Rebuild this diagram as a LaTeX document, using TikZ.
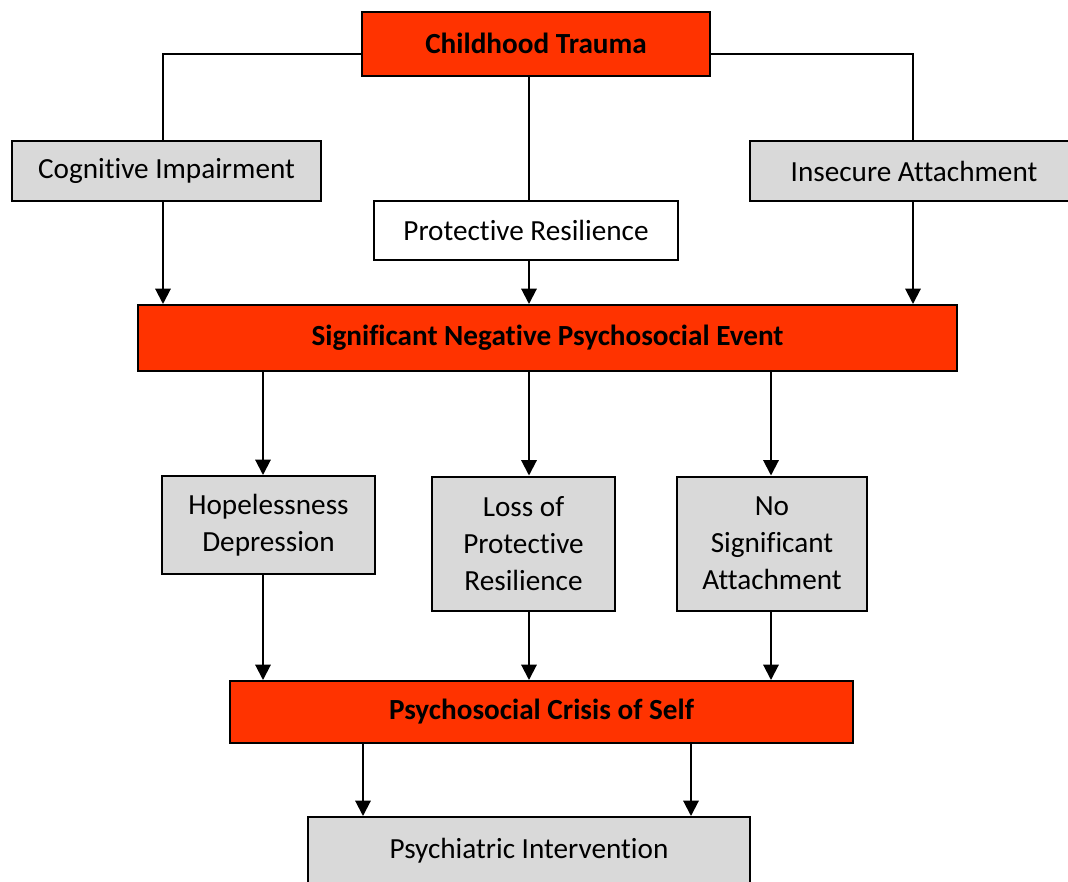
\documentclass[tikz,border=0pt]{standalone}
\usepackage{fontspec}
\setmainfont{Carlito}[Ligatures={NoCommon}]
\usetikzlibrary{arrows.meta,calc}
\definecolor{boxred}{HTML}{FF3300}
\definecolor{boxgray}{HTML}{D9D9D9}
\begin{document}
\begin{tikzpicture}[x=0.75pt,y=-0.75pt,
  base/.style={draw=black,line width=1.5pt,inner sep=0pt,align=center,
    font=\fontsize{21.9}{27.6}\selectfont},
  redbox/.style={base,fill=boxred,font=\fontsize{21.9}{27.6}\selectfont\bfseries},
  graybox/.style={base,fill=boxgray},
  whitebox/.style={base,fill=white},
  conn/.style={line width=1.5pt},
  arr/.style={line width=1.5pt,-{Triangle[width=11.5pt,length=11.5pt]}}]
\useasboundingbox (0,0) rectangle (1068,882);
\fill[white] (0,0) rectangle (1068,882);
% nodes
\node[redbox,minimum width=348*0.75pt,minimum height=64*0.75pt] (CT) at (536,44) {\raisebox{1.5pt}{Childhood Trauma}};
\node[graybox,minimum width=309*0.75pt,minimum height=60*0.75pt] (CI) at (166.5,171) {Cognitive Impairment};
\node[graybox,minimum width=320*0.75pt,minimum height=60*0.75pt] (IA) at (910,171) {\hspace*{6pt}Insecure Attachment};
\node[whitebox,minimum width=304*0.75pt,minimum height=59*0.75pt] (PR) at (526,230.5) {Protective Resilience};
\node[redbox,minimum width=819*0.75pt,minimum height=66*0.75pt] (SN) at (547.5,338) {Significant Negative Psychosocial Event};
\node[graybox,minimum width=213*0.75pt,minimum height=98*0.75pt] (HD) at (268.5,525) {Hopelessness\\Depression};
\node[graybox,minimum width=183*0.75pt,minimum height=134*0.75pt] (LP) at (523.5,543.5) {Loss of\\Protective\\Resilience};
\node[graybox,minimum width=190*0.75pt,minimum height=134*0.75pt] (NS) at (772,543.5) {No\\Significant\\Attachment};
\node[redbox,minimum width=623*0.75pt,minimum height=62*0.75pt] (PC) at (541.5,712) {Psychosocial Crisis of Self};
\node[graybox,minimum width=442*0.75pt,minimum height=68*0.75pt] (PI) at (529,851) {\raisebox{3pt}{Psychiatric Intervention}};
% columns
\coordinate (ca) at (163,54);
\coordinate (cb) at (529,0);
\coordinate (cc) at (913,54);
\coordinate (cd) at (263,0);
\coordinate (ce) at (529,0);
\coordinate (cf) at (771,0);
\coordinate (cg) at (363,0);
\coordinate (ch) at (691,0);
% connectors from top
\draw[conn] (CT.west |- ca) -- (ca) -- (ca |- CI.north);
\draw[conn] (CT.east |- cc) -- (cc) -- (cc |- IA.north);
\draw[conn] (cb |- CT.south) -- (cb |- PR.north);
% into SN
\draw[arr] (ca |- CI.south) -- (ca |- SN.north);
\draw[arr] (cb |- PR.south) -- (cb |- SN.north);
\draw[arr] (cc |- IA.south) -- (cc |- SN.north);
% from SN
\draw[arr] (cd |- SN.south) -- (cd |- HD.north);
\draw[arr] (ce |- SN.south) -- (ce |- LP.north);
\draw[arr] (cf |- SN.south) -- (cf |- NS.north);
% into PC
\draw[arr] (cd |- HD.south) -- (cd |- PC.north);
\draw[arr] (ce |- LP.south) -- (ce |- PC.north);
\draw[arr] (cf |- NS.south) -- (cf |- PC.north);
% into PI
\draw[arr] (cg |- PC.south) -- (cg |- PI.north);
\draw[arr] (ch |- PC.south) -- (ch |- PI.north);
\end{tikzpicture}
\end{document}
